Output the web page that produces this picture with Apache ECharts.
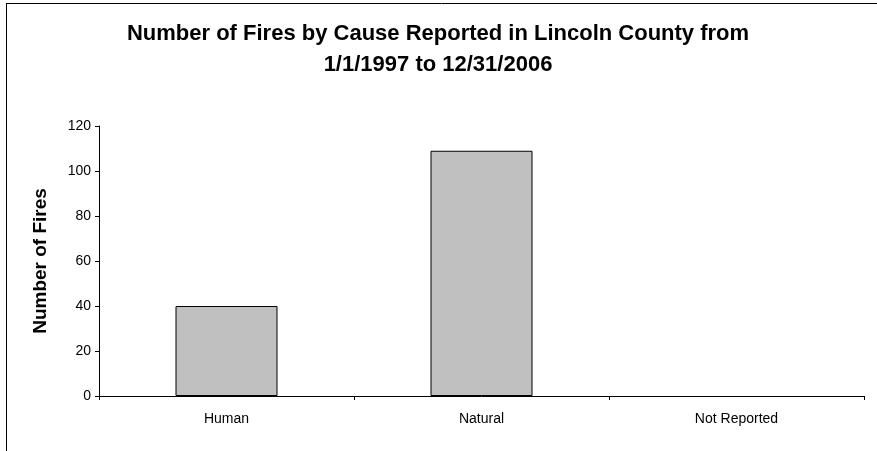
<!DOCTYPE html>
<html><head><meta charset="utf-8">
<script src="https://cdn.jsdelivr.net/npm/echarts@6/dist/echarts.min.js"></script>
<style>html,body{margin:0;padding:0;background:#fff}#c{width:877px;height:451px}</style>
</head><body><div id="c"></div>
<script>
const categories = ['Human', 'Natural', 'Not Reported'];
const fireCounts = [40, 109, 0];
const yTicks = {min: 0, max: 120, interval: 20};

const chart = echarts.init(document.getElementById('c'), null, {renderer: 'canvas'});
chart.setOption({
  animation: false,
  backgroundColor: '#fff',
  title: {
    text: 'Number of Fires by Cause Reported in Lincoln County from\n1/1/1997 to 12/31/2006',
    left: 433, top: 13, textAlign: 'center',
    textStyle: {fontFamily: 'Liberation Sans', fontWeight: 'bold', fontSize: 22, color: '#000', lineHeight: 31}
  },
  graphic: [
    {type: 'line', shape: {x1: 6, y1: 3.5, x2: 877, y2: 3.5}, style: {stroke: '#000', lineWidth: 1}},
    {type: 'line', shape: {x1: 6.5, y1: 3, x2: 6.5, y2: 451}, style: {stroke: '#000', lineWidth: 1}}
  ],
  grid: {left: 99, top: 126, right: 13, bottom: 55, containLabel: false},
  xAxis: {
    type: 'category', data: categories,
    axisLine: {lineStyle: {color: '#000', width: 1}},
    axisTick: {show: true, length: 4, lineStyle: {color: '#000'}},
    axisLabel: {fontFamily: 'Liberation Sans', fontSize: 14, color: '#000', margin: 16}
  },
  yAxis: {
    type: 'value', min: yTicks.min, max: yTicks.max, interval: yTicks.interval,
    name: 'Number of Fires', nameLocation: 'middle', nameGap: 49, nameRotate: 90,
    nameTextStyle: {fontFamily: 'Liberation Sans', fontWeight: 'bold', fontSize: 19, color: '#000'},
    axisLine: {show: true, lineStyle: {color: '#000', width: 1}},
    axisTick: {show: true, length: 4, lineStyle: {color: '#000'}},
    splitLine: {show: false},
    axisLabel: {fontFamily: 'Liberation Sans', fontSize: 14, color: '#000', margin: 8}
  },
  series: [{
    type: 'bar', barCategoryGap: '60%',
    data: fireCounts.map(v => ({value: v, itemStyle: v === 0 ? {borderWidth: 0, color: 'transparent'} : {}})),
    itemStyle: {color: '#C0C0C0', borderColor: '#000', borderWidth: 1}
  }]
});
</script></body></html>
